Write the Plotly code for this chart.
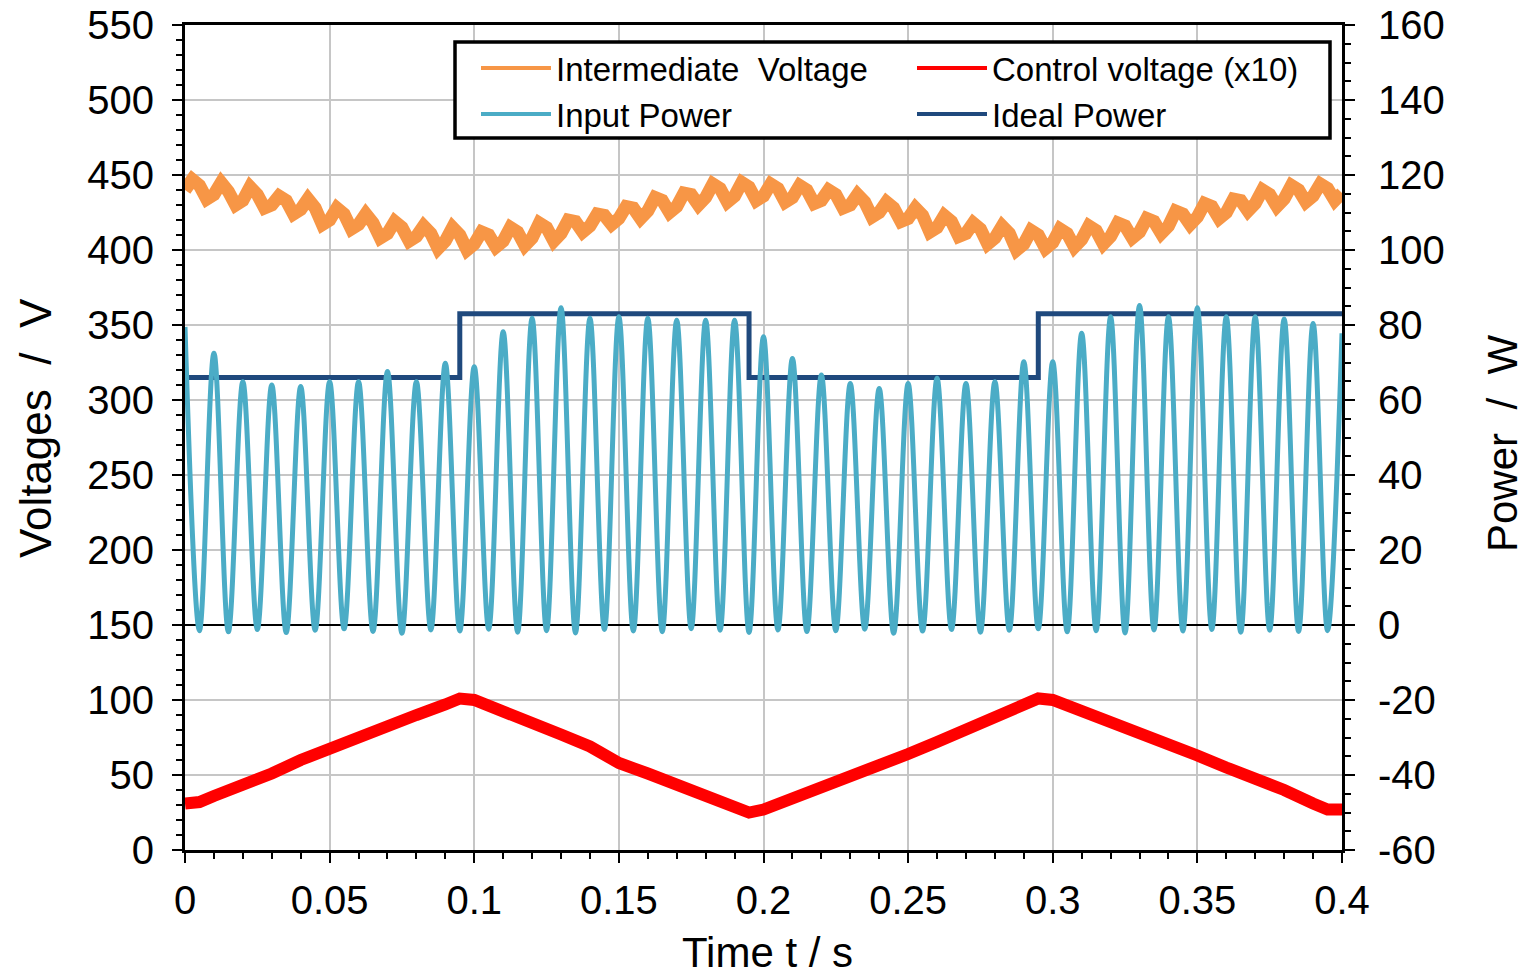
import plotly.graph_objects as go

# ---------------- data ----------------
# Input power: peaks at t = 0, 0.01, ..., 0.40 ; troughs in between (W)
power_peaks = [79.5, 72.5, 64.9, 64.0, 63.6, 64.9, 64.9, 67.6, 64.9, 69.8,
               68.9, 78.2, 81.8, 84.6, 81.8, 82.2, 81.8, 81.3, 81.3, 81.3,
               76.9, 71.1, 66.7, 64.4, 63.1, 64.4, 65.8, 64.4, 64.9, 70.2,
               70.2, 77.8, 82.2, 85.2, 82.2, 84.6, 82.2, 82.2, 81.6, 80.4,
               77.8]
power_troughs = [-1.5, -1.8, -1.2, -2.0, -1.4, -1.0, -1.7, -2.2, -1.3, -1.6,
                 -1.1, -1.9, -1.5, -2.1, -1.2, -1.6, -1.8, -1.0, -1.4, -2.0,
                 -1.3, -1.7, -1.5, -1.1, -2.2, -1.6, -1.2, -1.9, -1.4, -1.0,
                 -1.8, -1.5, -2.1, -1.3, -1.6, -1.2, -1.9, -1.4, -1.7, -1.5]
t_power = [round(0.005 * i, 4) for i in range(81)]

# Ideal power steps (W)
t_ideal = [0.0, 0.095, 0.195, 0.295, 0.4]
p_ideal = [66, 83, 66, 83, 83]

# Intermediate voltage (V): ripple extremes at 2.5 ms + 5 ms*k
v_inter_ext = [447, 434, 445, 430, 442, 428, 436, 424, 434, 417,
               428, 414, 424, 408, 419, 406, 416, 401, 415, 400,
               412, 402, 415, 403, 418, 406, 420, 412, 424, 417,
               429, 421, 435, 425, 438, 430, 444, 432, 445, 433,
               444, 432, 443, 431, 440, 428, 437, 422, 432, 419,
               428, 412, 423, 409, 418, 404, 416, 400, 413, 401,
               414, 402, 416, 404, 418, 408, 421, 411, 426, 417,
               431, 421, 434, 426, 440, 429, 443, 432, 444, 433]
# intermediate voltage between the extremes (at 5 ms*k)
v_inter_mid = [443, 437, 439, 433, 437, 430, 433, 427, 428, 420,
               424, 417, 418, 411, 415, 409, 411, 406, 410, 404,
               410, 406, 412, 408, 415, 411, 419, 416, 423, 421,
               428, 426, 433, 429, 437, 435, 441, 436, 442, 436,
               441, 435, 440, 433, 437, 430, 432, 425, 428, 421,
               423, 415, 419, 411, 414, 408, 411, 404, 410, 405,
               411, 407, 413, 409, 416, 412, 419, 416, 424, 422,
               429, 425, 433, 431, 437, 434, 440, 436, 441]
v_inter_start, v_inter_end = 440, 438

# Control voltage x10 (V)
t_ctrl = [0.0, 0.005, 0.01, 0.02, 0.03, 0.04, 0.05, 0.06, 0.07, 0.08, 0.09, 0.095,
          0.10, 0.11, 0.12, 0.13, 0.14, 0.15, 0.16, 0.17, 0.18, 0.19, 0.195,
          0.20, 0.21, 0.22, 0.23, 0.24, 0.25, 0.26, 0.27, 0.28, 0.29, 0.295,
          0.30, 0.31, 0.32, 0.33, 0.34, 0.35, 0.36, 0.37, 0.38, 0.39, 0.395, 0.40]
v_ctrl = [31, 32, 36, 43, 51, 60, 68, 75, 82, 90, 97, 101,
          100, 93, 85, 77, 69, 58, 51, 43, 35, 28, 25,
          27, 34, 41, 49, 57, 64, 72, 80, 88, 97, 101,
          100, 93, 86, 79, 71, 63, 55, 48, 40, 31, 27, 27]

y2_ticks = [-60, -40, -20, 0, 20, 40, 60, 80, 100, 120, 140, 160]
y2_labels = ['-60', '-40', '-20', '0', '20', '40', '60', '80', '100', '120', '140', '160']

# interleave peaks/troughs
input_power = []
for i in range(len(power_troughs)):
    input_power += [power_peaks[i], power_troughs[i]]
input_power.append(power_peaks[-1])

# intermediate voltage: interleave extremes and mid values on a 2.5 ms grid
t_inter = [0.0]
v_inter = [v_inter_start]
for k in range(len(v_inter_ext)):
    t_inter.append(round(0.0025 + 0.005 * k, 4))
    v_inter.append(v_inter_ext[k])
    if k < len(v_inter_mid):
        t_inter.append(round(0.005 * (k + 1), 4))
        v_inter.append(v_inter_mid[k])
t_inter.append(0.4)
v_inter.append(v_inter_end)

# ---------------- styling ----------------
ORANGE = '#F79646'
RED = '#FF0000'
CYAN = '#4BACC6'
NAVY = '#1F497D'
FONT = 'Liberation Sans, Arial, sans-serif'

W, H = 1526, 975
L, R, T, B = 185, 184, 25, 125
PW, PH = W - L - R, H - T - B

fig = go.Figure()

fig.add_trace(go.Scatter(x=t_inter, y=v_inter, mode='lines', showlegend=False,
                         line=dict(color=ORANGE, width=13)))
fig.add_trace(go.Scatter(x=t_ctrl, y=v_ctrl, mode='lines', showlegend=False,
                         line=dict(color=RED, width=12)))
fig.add_trace(go.Scatter(x=t_ideal, y=p_ideal, mode='lines', showlegend=False, yaxis='y2',
                         line=dict(color=NAVY, width=5, shape='hv')))
fig.add_trace(go.Scatter(x=t_power, y=input_power, mode='lines', showlegend=False, yaxis='y2',
                         line=dict(color=CYAN, width=5, shape='spline')))

# legend-only entries
leg_items = [('Intermediate  Voltage', ORANGE, 'legend'),
             ('Control voltage (x10)', RED, 'legend2'),
             ('Input Power', CYAN, 'legend3'),
             ('Ideal Power', NAVY, 'legend4')]
for name, col, lg in leg_items:
    fig.add_trace(go.Scatter(x=[None], y=[None], mode='lines', name=name, legend=lg,
                             line=dict(color=col, width=4)))

def legpos(fx, fy):
    return dict(x=fx / W, y=1 - fy / H, xref='container', yref='container',
                xanchor='left', yanchor='middle', bgcolor='rgba(0,0,0,0)',
                borderwidth=0, itemwidth=70, font=dict(family=FONT, size=33, color='black'))

tick_font = dict(family=FONT, size=40, color='black')

fig.update_layout(
    width=W, height=H,
    margin=dict(l=L, r=R, t=T, b=B, autoexpand=False),
    paper_bgcolor='white', plot_bgcolor='white',
    font=dict(family=FONT, color='black'),
    legend=legpos(476, 68),
    legend2=legpos(912, 68),
    legend3=legpos(476, 114),
    legend4=legpos(912, 114),
    xaxis=dict(range=[0, 0.4], tick0=0, dtick=0.05, ticks='outside', ticklen=10, tickwidth=2,
               tickcolor='black', showgrid=True, gridcolor='#C6C6C6', gridwidth=2,
               showline=True, linecolor='black', linewidth=3, mirror=True, zeroline=False,
               tickfont=tick_font, ticklabelstandoff=3, ticklabeloverflow='allow',
               minor=dict(tick0=0, dtick=0.01, ticks='outside', ticklen=6, tickwidth=1.5,
                          tickcolor='black', showgrid=False)),
    yaxis=dict(range=[0, 550], tick0=0, dtick=50, ticks='outside', ticklen=10, tickwidth=2,
               tickcolor='black', showgrid=True, gridcolor='#C6C6C6', gridwidth=2,
               showline=True, linecolor='black', linewidth=3, zeroline=False,
               tickfont=tick_font, ticklabelstandoff=10, ticklabeloverflow='allow',
               minor=dict(tick0=0, dtick=10, ticks='outside', ticklen=6, tickwidth=1.5,
                          tickcolor='black', showgrid=False)),
    yaxis2=dict(range=[-60, 160], overlaying='y', side='right', tickmode='array',
                tickvals=y2_ticks, ticktext=y2_labels, ticks='outside', ticklen=10, tickwidth=2,
                tickcolor='black', showgrid=False, showline=True, linecolor='black', linewidth=3,
                zeroline=True, zerolinecolor='black', zerolinewidth=1.5,
                tickfont=tick_font, ticklabelstandoff=15, ticklabeloverflow='allow',
                minor=dict(tickmode='linear', tick0=-60, dtick=5, ticks='outside', ticklen=6,
                           tickwidth=1.5, tickcolor='black', showgrid=False)),
)

# legend frame
def px2paper(fx, fy):
    return (fx - L) / PW, (H - B - fy) / PH

x0, y0 = px2paper(455, 42)
x1, y1 = px2paper(1330, 138)
fig.add_shape(type='rect', xref='paper', yref='paper', x0=x0, x1=x1, y0=y1, y1=y0,
              line=dict(color='black', width=3.5), fillcolor='white', layer='above')

# axis titles
def ann(text, fx, fy, angle, size):
    px, py = px2paper(fx, fy)
    fig.add_annotation(text=text, x=px, y=py, xref='paper', yref='paper', showarrow=False,
                       textangle=angle, xanchor='center', yanchor='middle',
                       font=dict(family=FONT, size=size, color='black'))

ann('Voltages  /  V', 35, 428, -90, 44)
ann('Power  /  W', 1503, 444, -90, 42)
ann('Time t / s', 767, 953, 0, 42)

fig.write_html('out.html', config={'displayModeBar': False},
               post_script="document.body.style.margin='0px';")
